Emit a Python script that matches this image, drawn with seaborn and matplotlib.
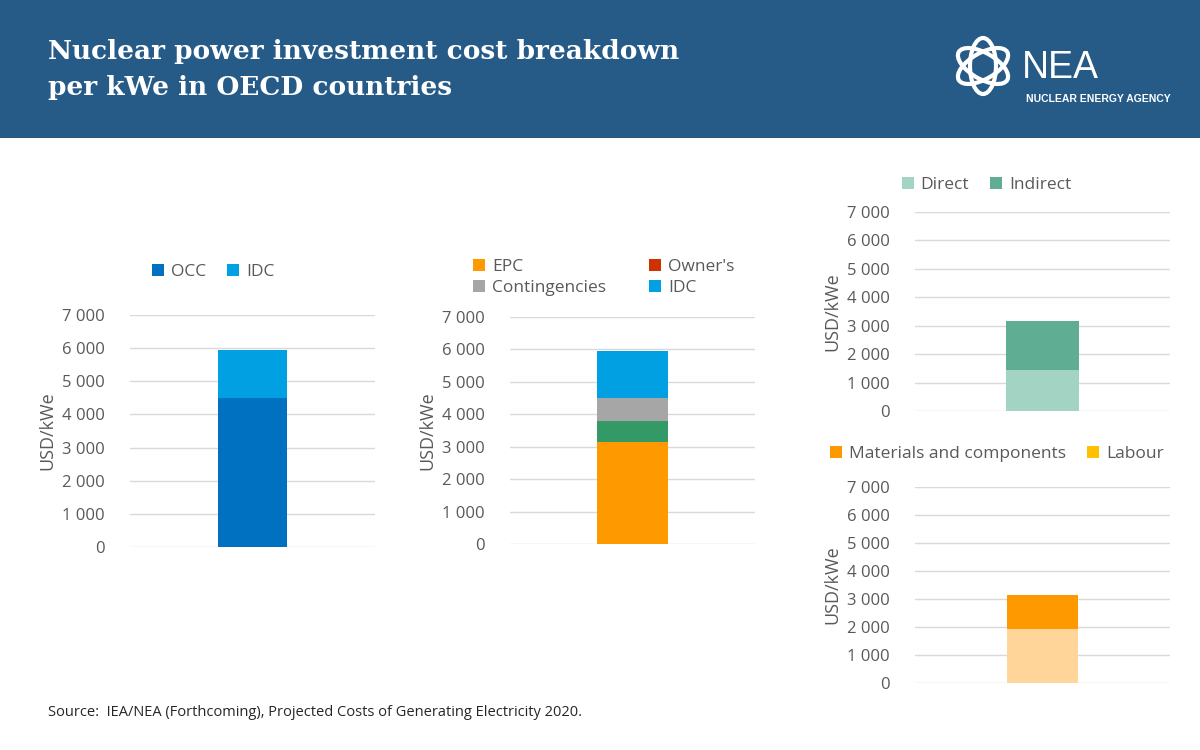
import matplotlib
matplotlib.use("Agg")
import matplotlib.pyplot as plt
import matplotlib.patches as patches
import seaborn as sns

sns.set_theme(style="white")
plt.rcParams['font.family'] = ['Open Sans', 'DejaVu Sans']

# data
occ_names = ["OCC", "IDC"]
occ_values = [4500, 1450]
occ_colors = ["#0070c0", "#00a0e3"]

epc_names = ["EPC", "Owner's", "Contingencies", "IDC"]
epc_values = [3150, 650, 700, 1450]
epc_bar_colors = ["#ff9900", "#339966", "#a6a6a6", "#00a0e3"]
epc_legend_colors = ["#ff9900", "#cc3300", "#a6a6a6", "#00a0e3"]

dir_names = ["Direct", "Indirect"]
dir_values = [1450, 1700]
dir_colors = ["#a3d3c2", "#5fad92"]

mat_names = ["Materials and components", "Labour"]
mat_values = [1920, 1230]
mat_bar_colors = ["#ffd59a", "#ff9900"]
mat_legend_colors = ["#ff9900", "#ffc000"]

ticks = [0, 1000, 2000, 3000, 4000, 5000, 6000, 7000]
tick_labels = ["0", "1 000", "2 000", "3 000", "4 000", "5 000", "6 000", "7 000"]

grey = "#595959"
fig = plt.figure(figsize=(12, 7.5), dpi=100)
fig.patch.set_facecolor("white")

# header band
fig.patches.append(patches.Rectangle((0, 1 - 138 / 750), 1, 138 / 750, transform=fig.transFigure,
                                     facecolor="#265a87", edgecolor="none", zorder=0))
fig.text(48 / 1200, 1 - 52 / 750, "Nuclear power investment cost breakdown", color="white",
         fontsize=19, fontweight="bold", family="DejaVu Serif", va="center")
fig.text(48 / 1200, 1 - 88 / 750, "per kWe in OECD countries", color="white",
         fontsize=19, fontweight="bold", family="DejaVu Serif", va="center")
fig.text(1022 / 1200, 1 - 68 / 750, "NEA", color="white", fontsize=27, va="center", family="Liberation Sans")
fig.text(1026 / 1200, 1 - 99 / 750, "NUCLEAR ENERGY AGENCY", color="white", fontsize=7.5,
         fontweight="bold", va="center", family="Liberation Sans")
# simple logo: rotated rings (drawn in pixel space so angles stay round)
for ang in [30, 90, 150]:
    fig.patches.append(patches.Ellipse((983, 684), 56, 26, angle=ang, transform=None,
                                       fill=False, edgecolor="white", lw=3))

fig.text(48 / 1200, 1 - 713 / 750, "Source:  IEA/NEA (Forthcoming), Projected Costs of Generating Electricity 2020.",
         fontsize=10.5, color="#262626", va="center")


def stacked(rect, values, colors, bar_width):
    ax = fig.add_axes(rect)
    cum = []
    total = 0
    for v in values:
        total += v
        cum.append(total)
    for top, c in reversed(list(zip(cum, colors))):
        sns.barplot(x=[0], y=[top], color=c, width=bar_width, ax=ax, saturation=1, zorder=3, linewidth=0)
    ax.set_xlim(-0.5, 0.5)
    ax.set_ylim(0, 7000)
    ax.set_yticks(ticks)
    ax.set_yticklabels(tick_labels, fontsize=12, color=grey)
    ax.set_xticks([])
    ax.set_xlabel("")
    ax.set_ylabel("USD/kWe", fontsize=13, color=grey)
    ax.grid(axis="y", color="#d9d9d9", lw=1, zorder=0)
    ax.tick_params(axis="y", length=0, pad=18)
    for s in ax.spines.values():
        s.set_visible(False)
    ax.set_axisbelow(True)
    return ax


def legend(ax, names, colors, ncol, anchor):
    handles = [patches.Patch(facecolor=c, edgecolor="none", label=n) for n, c in zip(names, colors)]
    ax.legend(handles=handles, ncol=ncol, loc="lower left", bbox_to_anchor=anchor, frameon=False,
              fontsize=12.5, handlelength=0.7, handleheight=0.7, handletextpad=0.4, columnspacing=1.2,
              labelcolor=grey, borderaxespad=0)


ax1 = stacked([130 / 1200, 1 - 547 / 750, 245 / 1200, 232 / 750], occ_values, occ_colors, 0.28)
legend(ax1, occ_names, occ_colors, 2, (0.06, 1.12))

ax2 = stacked([510 / 1200, 1 - 544 / 750, 245 / 1200, 227 / 750], epc_values, epc_bar_colors, 0.29)
handles = [patches.Patch(facecolor=c, edgecolor="none", label=n) for n, c in zip(epc_names, epc_legend_colors)]
ax2.legend(handles=[handles[0], handles[2], handles[1], handles[3]], ncol=2, loc="lower left",
           bbox_to_anchor=(-0.18, 1.06), frameon=False, fontsize=12.5, handlelength=0.7, handleheight=0.7,
           handletextpad=0.4, columnspacing=2.5, labelcolor=grey, borderaxespad=0, labelspacing=0.3)

ax3 = stacked([915 / 1200, 1 - 411 / 750, 255 / 1200, 199 / 750], dir_values, dir_colors, 0.29)
legend(ax3, dir_names, dir_colors, 2, (-0.08, 1.06))

ax4 = stacked([915 / 1200, 1 - 683 / 750, 255 / 1200, 196 / 750], mat_values, mat_bar_colors, 0.28)
legend(ax4, mat_names, mat_legend_colors, 2, (-0.36, 1.09))

fig.savefig("out.png", dpi=100)
